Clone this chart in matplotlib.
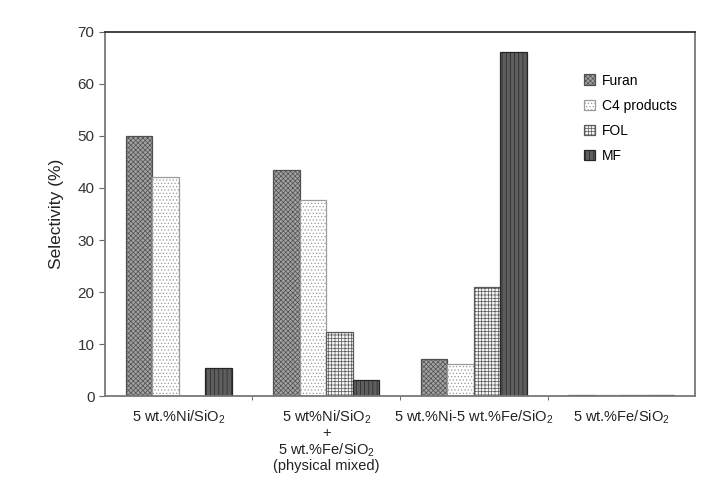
import matplotlib
matplotlib.use("Agg")
import matplotlib.pyplot as plt
import numpy as np

plt.rcParams['font.family'] = ['Liberation Sans', 'DejaVu Sans']
plt.rcParams['mathtext.default'] = 'regular'
plt.rcParams['hatch.linewidth'] = 0.5

categories = ['5 wt.%Ni/SiO$_2$',
              '5 wt%Ni/SiO$_2$\n+\n5 wt.%Fe/SiO$_2$\n(physical mixed)',
              '5 wt.%Ni-5 wt.%Fe/SiO$_2$',
              '5 wt.%Fe/SiO$_2$']
series = ['Furan', 'C4 products', 'FOL', 'MF']
furan = [50.0, 43.5, 7.1, 0.2]
c4 = [42.2, 37.6, 6.2, 0.2]
fol = [0.0, 12.4, 21.0, 0.2]
mf = [5.4, 3.1, 66.2, 0.2]

styles = [
    dict(facecolor='#a2a2a2', hatch='xxxxxxx', edgecolor='#505050'),
    dict(facecolor='white', hatch='.....', edgecolor='#9a9a9a'),
    dict(facecolor='#f4f4f4', hatch='+++++', edgecolor='#5a5a5a'),
    dict(facecolor='#5e5e5e', hatch='||||', edgecolor='#262626'),
]

fig = plt.figure(figsize=(7.28, 4.84), dpi=100)
ax = fig.add_axes([0.1442, 0.1818, 0.8105, 0.7521])

x = np.arange(len(categories)) + 0.5
w = 0.18
for i, (name, vals) in enumerate(zip(series, [furan, c4, fol, mf])):
    ax.bar(x + (i - 1.5) * w, vals, w, label=name, linewidth=0.9, **styles[i])

ax.set_xlim(0, 4)
ax.set_ylim(0, 70)
ax.set_yticks(range(0, 71, 10))
ax.set_xticks(x)
ax.set_xticklabels(categories, fontsize=10.5, linespacing=1.05, va='top', color='#222222')
ax.tick_params(axis='x', length=0, pad=9)
ax.set_xticks([1, 2, 3], minor=True)
ax.tick_params(axis='x', which='minor', length=3, direction='out', color='#555555')
ax.tick_params(axis='y', labelsize=11, length=4, color='#666666', labelcolor='#333333')
ax.set_ylabel('Selectivity (%)', fontsize=12.5, color='#222222', labelpad=10)

for s in ['left', 'bottom', 'right']:
    ax.spines[s].set_color('#777777')
    ax.spines[s].set_linewidth(1.3)
ax.spines['top'].set_color('#333333')
ax.spines['top'].set_linewidth(1.3)

ax.legend(loc='upper right', bbox_to_anchor=(0.99, 0.92), frameon=False, fontsize=10,
          handlelength=0.8, handleheight=0.8, handletextpad=0.5, labelspacing=0.8)

fig.savefig('out.png', dpi=100)
